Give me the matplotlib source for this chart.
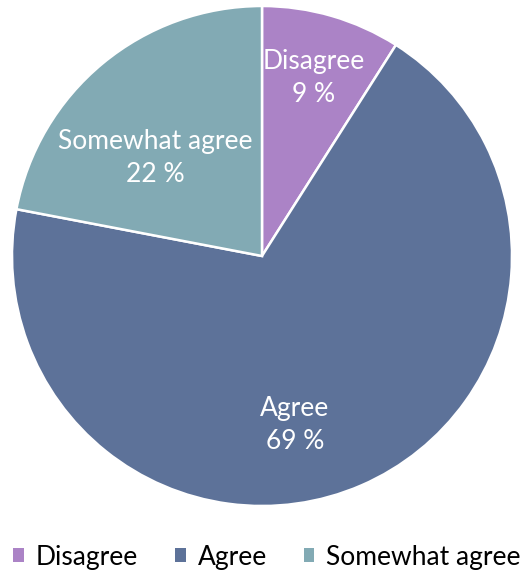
import numpy as np
import matplotlib.pyplot as plt
from matplotlib.patches import Patch

plt.rcParams['font.family'] = ['Lato', 'DejaVu Sans']

labels = ['Disagree', 'Agree', 'Somewhat agree']
shares = [9, 69, 22]
colors = ['#AB83C6', '#5D7299', '#82AAB4']

# label placement: (angle in degrees, distance as fraction of radius)
label_pos = [(73.8, 0.74), (-79.0, 0.69), (137.5, 0.58)]

fig = plt.figure(figsize=(5.2, 5.78), dpi=100)
ax = fig.add_axes([12 / 520, 72 / 578, 500 / 520, 500 / 578])

wedges, _ = ax.pie(shares, colors=colors, startangle=90, counterclock=False,
                   radius=1.0, wedgeprops=dict(edgecolor='white', linewidth=1.8))
ax.set_xlim(-1, 1)
ax.set_ylim(-1, 1)
ax.set_aspect('equal')
ax.axis('off')

for lab, val, (ang, r) in zip(labels, shares, label_pos):
    a = np.deg2rad(ang)
    ax.text(r * np.cos(a), r * np.sin(a), f'{lab}\n{val} %', ha='center', va='center',
            color='white', fontsize=19, linespacing=1.4)

handles = [Patch(facecolor=c, edgecolor='none') for c in colors]
fig.legend(handles, labels, loc='center', bbox_to_anchor=(267 / 520, 21 / 578), ncol=3,
           frameon=False, fontsize=19, handlelength=0.4, handleheight=0.4,
           handletextpad=0.45, columnspacing=1.4, borderpad=0.1)

fig.savefig('out.png', dpi=100)
